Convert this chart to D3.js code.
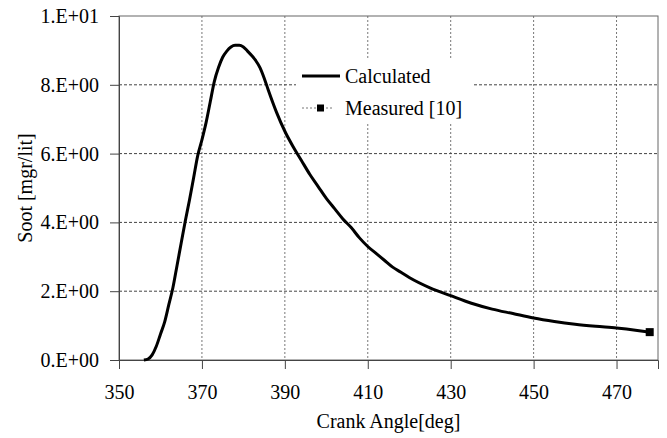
<!DOCTYPE html>
<html>
<head>
<meta charset="utf-8">
<script src="https://cdn.jsdelivr.net/npm/d3@7"></script>
<style>
  body { margin: 0; background: #fff; }
  svg text { font-family: "Liberation Serif", Tinos, "Times New Roman", "DejaVu Serif", serif; fill: #000; }
</style>
</head>
<body>
<svg width="667" height="438"></svg>
<script>
// Calculated soot curve (crank angle in deg, soot in mgr/lit)
const angles = [356, 357, 358, 359, 360, 361, 362, 363, 364, 365, 366, 367, 368, 369, 370,
    371, 372, 373, 374, 375, 376, 377, 378, 379, 380, 381, 382, 383, 384, 385, 386,
    388, 390, 392, 394, 396, 398, 400, 402, 404, 406, 408, 410, 412, 414, 416, 418, 420,
    425, 430, 435, 440, 445, 450, 455, 460, 465, 470, 475, 478];
const soot = [0, 0.03, 0.15, 0.4, 0.75, 1.1, 1.6, 2.1, 2.75, 3.4, 4.05, 4.65, 5.3, 5.95, 6.4,
    6.9, 7.5, 8.1, 8.5, 8.8, 8.98, 9.1, 9.15, 9.15, 9.1, 8.98, 8.85, 8.7, 8.5, 8.2, 7.85,
    7.2, 6.65, 6.2, 5.8, 5.4, 5.05, 4.7, 4.4, 4.1, 3.85, 3.55, 3.3, 3.1, 2.9, 2.7, 2.55, 2.4,
    2.1, 1.87, 1.65, 1.48, 1.35, 1.22, 1.12, 1.04, 0.98, 0.93, 0.86, 0.81];

// Measured point [10]
const measuredAngle = [478];
const measuredSoot = [0.81];

const xTicks = [350, 370, 390, 410, 430, 450, 470];
const yTicks = [0, 2, 4, 6, 8, 10];
const yTickLabels = ["0.E+00", "2.E+00", "4.E+00", "6.E+00", "8.E+00", "1.E+01"];
const legendLabels = ["Calculated", "Measured [10]"];

const width = 667;
const height = 438;
const margin = { top: 16, right: 9, bottom: 78, left: 119 };
const innerWidth = width - margin.left - margin.right;
const innerHeight = height - margin.top - margin.bottom;
const serif = "'Liberation Serif', Tinos, 'Times New Roman', 'DejaVu Serif', serif";

const xScale = d3.scaleLinear().domain([350, 480]).range([0, innerWidth]);
const yScale = d3.scaleLinear().domain([0, 10]).range([innerHeight, 0]);

const svg = d3.select("svg");
const g = svg.append("g")
    .attr("transform", `translate(${margin.left},${margin.top})`);

// grid
g.append("g")
    .selectAll("line")
    .data(xTicks.slice(1))
    .enter()
    .append("line")
    .attr("x1", d => xScale(d)).attr("x2", d => xScale(d))
    .attr("y1", 0).attr("y2", innerHeight)
    .attr("stroke", "#777")
    .attr("stroke-dasharray", "2,2");

g.append("g")
    .selectAll("line")
    .data(yTicks.slice(1, -1))
    .enter()
    .append("line")
    .attr("x1", 0).attr("x2", innerWidth)
    .attr("y1", d => yScale(d)).attr("y2", d => yScale(d))
    .attr("stroke", "#444")
    .attr("stroke-dasharray", "3,2");

// plot border
g.append("rect")
    .attr("width", innerWidth)
    .attr("height", innerHeight)
    .attr("fill", "none")
    .attr("stroke", "#666");

// axes
const xAxis = d3.axisBottom(xScale).tickValues(xTicks).tickSize(9).tickPadding(16);
const yAxis = d3.axisLeft(yScale).tickValues(yTicks).tickSize(9).tickPadding(11)
    .tickFormat((d, i) => yTickLabels[i]);

g.append("g")
    .attr("class", "x-axis")
    .attr("transform", `translate(0,${innerHeight})`)
    .call(xAxis);

g.append("g")
    .attr("class", "y-axis")
    .call(yAxis);

g.selectAll(".x-axis, .y-axis").attr("font-family", serif).attr("font-size", 20);
g.selectAll(".x-axis path, .y-axis path").attr("stroke", "#444");
g.selectAll(".tick line").attr("stroke", "#444");
g.selectAll(".tick text").attr("fill", "#000");

// legend (white box hides grid)
const legend = g.append("g")
    .attr("transform", `translate(${296 - margin.left},${60 - margin.top})`);
legend.append("rect")
    .attr("width", 178).attr("height", 63)
    .attr("fill", "#fff");
legend.append("line")
    .attr("x1", 6).attr("x2", 44).attr("y1", 16).attr("y2", 16)
    .attr("stroke", "#000").attr("stroke-width", 3);
legend.append("line")
    .attr("x1", 6).attr("x2", 37).attr("y1", 48).attr("y2", 48)
    .attr("stroke", "#777").attr("stroke-dasharray", "2,2");
legend.append("rect")
    .attr("x", 21).attr("y", 44.5).attr("width", 7).attr("height", 7)
    .attr("fill", "#000");
legend.selectAll("text.lg")
    .data(legendLabels)
    .enter()
    .append("text")
    .attr("class", "lg")
    .attr("x", 49)
    .attr("y", (d, i) => 23 + i * 32)
    .attr("font-family", serif)
    .attr("font-size", 20)
    .text(d => d);

// calculated line
const line = d3.line()
    .x((d, i) => xScale(angles[i]))
    .y(d => yScale(d))
    .curve(d3.curveMonotoneX);

g.append("path")
    .datum(soot)
    .attr("d", line)
    .attr("fill", "none")
    .attr("stroke", "#000")
    .attr("stroke-width", 3)
    .attr("stroke-linejoin", "round");

// measured point
g.selectAll("rect.meas")
    .data(measuredSoot)
    .enter()
    .append("rect")
    .attr("class", "meas")
    .attr("x", (d, i) => xScale(measuredAngle[i]) - 4)
    .attr("y", d => yScale(d) - 4)
    .attr("width", 8).attr("height", 8)
    .attr("fill", "#000");

// axis titles
svg.append("text")
    .attr("x", margin.left + innerWidth / 2)
    .attr("y", 428)
    .attr("text-anchor", "middle")
    .attr("font-family", serif)
    .attr("font-size", 20)
    .text("Crank Angle[deg]");

svg.append("text")
    .attr("transform", `translate(32,${margin.top + innerHeight / 2}) rotate(-90)`)
    .attr("text-anchor", "middle")
    .attr("font-family", serif)
    .attr("font-size", 20)
    .text("Soot [mgr/lit]");
</script>
</body>
</html>
